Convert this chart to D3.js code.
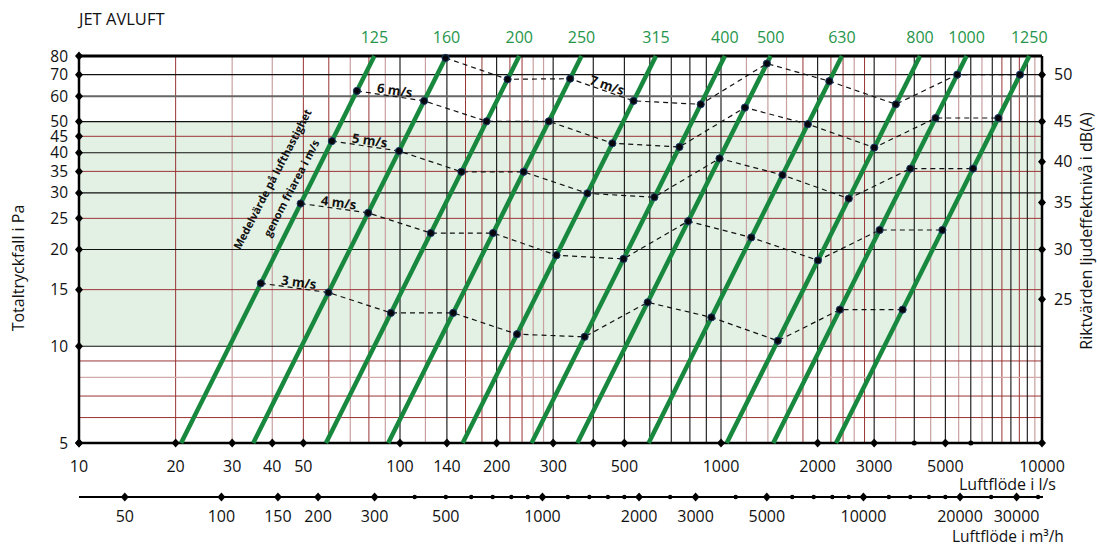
<!DOCTYPE html>
<html>
<head>
<meta charset="utf-8">
<script src="https://cdn.jsdelivr.net/npm/d3@7"></script>
<style>
body { margin: 0; background: #fff; }
text { font-family: "Open Sans", sans-serif; fill: #111; }
</style>
</head>
<body>
<div class="chart"></div>
<script>
// duct sizes (green lines) and the flow in l/s where each line meets 5 Pa
var ductSizes = [125, 160, 200, 250, 315, 400, 500, 630, 800, 1000, 1250];
var flowAt5Pa = [20.8, 34.9, 58.8, 91.9, 156.8, 257, 357, 595, 1042, 1455, 2282];

// pressure (Pa) of each dot, one per duct size, for every velocity
var velocities = ["3 m/s", "4 m/s", "5 m/s", "6 m/s", "7 m/s"];
var p3 = [15.7, 14.7, 12.7, 12.7, 10.9, 10.7, 13.7, 12.3, 10.4, 13.0, 13.0];
var p4 = [27.8, 26.0, 22.5, 22.5, 19.2, 18.7, 24.5, 21.8, 18.5, 23.0, 23.0];
var p5 = [43.5, 40.5, 34.9, 34.9, 29.9, 29.1, 38.4, 34.1, 28.8, 35.7, 35.7];
var p6 = [62.3, 58.0, 50.1, 50.1, 42.8, 41.7, 55.3, 49.1, 41.5, 51.3, 51.3];
var p7 = [null, 78.9, 67.7, 68.0, 58.0, 56.6, 75.8, 66.8, 56.6, 70.0, 70.0];
var pressures = [p3, p4, p5, p6, p7];
var labelSegment = [0, 0, 0, 0, 2];  // which segment of each dashed line carries its label

// axis ticks
var yTicks = [5, 10, 15, 20, 25, 30, 35, 40, 45, 50, 60, 70, 80];
var xTicks = [10, 20, 30, 40, 50, 100, 140, 200, 300, 400, 500, 1000, 2000, 3000, 5000, 10000];
var xTicksSmall = [4000, 6000];
var xLabels = [10, 20, 30, 40, 50, 100, 140, 200, 300, 500, 1000, 2000, 3000, 5000, 10000];
var m3Ticks = [50, 100, 150, 200, 300, 1000, 2000, 3000, 5000, 10000, 20000, 30000];
var m3TicksSmall = [400, 500, 600, 700, 800, 900, 1200, 1400, 1600, 1800, 2500, 4000, 6000, 7000, 8000, 9000, 12000, 14000, 16000, 18000, 25000, 35000];
var m3Labels = [50, 100, 150, 200, 300, 500, 1000, 2000, 3000, 5000, 10000, 20000, 30000];
var dbLabels = [50, 45, 40, 35, 30, 25];
var dbAtPa = [70, 50, 37.5, 28, 20, 14];

// grid lines
var hBlack = [10, 20, 30, 40, 50, 70];
var hRed = [6, 7, 9, 15, 25, 35, 45];
var hPink = [8];
var vBlack = [100, 140, 200, 300, 400, 500, 600, 700, 800, 900, 1000, 2000, 3000, 4000, 5000, 6000, 7000, 8000, 9000];
var vRed = [20, 50, 60, 80, 160, 180, 220, 240, 1800, 2200, 2400, 2800, 7500, 8500];
var vPink = [30, 40, 70, 90, 120, 260, 280, 1200, 1400, 1600, 2600, 3500, 4500, 5500, 6500, 9500];

var margin = { top: 56, right: 55, bottom: 103, left: 79 },
    W = 1097, H = 546,
    width = W - margin.left - margin.right,
    height = H - margin.top - margin.bottom;

var x = d3.scaleLog().domain([10, 10000]).range([0, width]),
    y = d3.scaleLog().domain([5, 80]).range([height, 0]),
    xm3 = d3.scaleLog().domain([36, 36000]).range([0, width]);  // 1 l/s = 3.6 m3/h

var root = d3.select(".chart").append("svg")
    .attr("width", W)
    .attr("height", H);

var svg = root.append("g")
    .attr("transform", "translate(" + margin.left + "," + margin.top + ")");

var diamond = "M0,-4.5L4,0L0,4.5L-4,0Z";

// green band 10-50 Pa
svg.append("rect")
    .attr("x", 0)
    .attr("y", y(50))
    .attr("width", width)
    .attr("height", y(10) - y(50))
    .style("fill", "#e3f1e5");

function hLines(vals, color, w) {
    svg.selectAll(null).data(vals).enter().append("line")
        .attr("x1", 0).attr("x2", width)
        .attr("y1", function(d) { return y(d); })
        .attr("y2", function(d) { return y(d); })
        .style("stroke", color).style("stroke-width", w);
}
function vLines(vals, color, w) {
    svg.selectAll(null).data(vals).enter().append("line")
        .attr("y1", 0).attr("y2", height)
        .attr("x1", function(d) { return x(d); })
        .attr("x2", function(d) { return x(d); })
        .style("stroke", color).style("stroke-width", w);
}
vLines(vPink, "#c9a0a0", 1.2);
vLines(vRed, "#9a3434", 1);
hLines(hPink, "#d2aaaa", 1.2);
hLines(hRed, "#9a3434", 1);
vLines(vBlack, "#111", 1.1);
hLines(hBlack, "#111", 1.2);
hLines([60], "#666", 2);

// frame
svg.append("line").attr("x1", 0).attr("x2", width).attr("y1", y(80)).attr("y2", y(80)).style("stroke", "#000").style("stroke-width", 3);
svg.append("line").attr("x1", 0).attr("x2", width).attr("y1", y(5)).attr("y2", y(5)).style("stroke", "#000").style("stroke-width", 2.5);
svg.append("line").attr("x1", 0).attr("x2", 0).attr("y1", 0).attr("y2", height).style("stroke", "#000").style("stroke-width", 2.5);
svg.append("line").attr("x1", width).attr("x2", width).attr("y1", 0).attr("y2", height).style("stroke", "#000").style("stroke-width", 2.5);

// green duct lines, p grows with q^2
var line = d3.line()
    .x(function(d) { return x(d.q); })
    .y(function(d) { return y(d.p); });

svg.selectAll(".duct")
    .data(flowAt5Pa)
    .enter().append("path")
    .attr("class", "duct")
    .attr("d", function(d) { return line([{q: d, p: 5}, {q: d * 4, p: 80}]); })
    .style("fill", "none")
    .style("stroke", "#17883d")
    .style("stroke-width", 4.5);

svg.selectAll(".duct-label")
    .data(ductSizes)
    .enter().append("text")
    .attr("class", "duct-label")
    .attr("x", function(d, i) { return x(flowAt5Pa[i] * 4); })
    .attr("y", -13)
    .attr("text-anchor", "middle")
    .style("font-size", "16px")
    .style("fill", "#25954a")
    .text(function(d) { return d; });

// velocity series
var series = pressures.map(function(ps) {
    return ps.map(function(p, i) {
        return p == null ? null : {q: flowAt5Pa[i] * Math.sqrt(p / 5), p: p};
    }).filter(function(d) { return d; });
});

svg.selectAll(".vel")
    .data(series)
    .enter().append("path")
    .attr("class", "vel")
    .attr("d", line)
    .style("fill", "none")
    .style("stroke", "#111")
    .style("stroke-width", 1.2)
    .style("stroke-dasharray", "5,4");

series.forEach(function(s) {
    svg.selectAll(null).data(s).enter().append("circle")
        .attr("cx", function(d) { return x(d.q); })
        .attr("cy", function(d) { return y(d.p); })
        .attr("r", 3.6)
        .style("fill", "#05070d")
        .style("stroke", "#1d3a66")
        .style("stroke-width", 1);
});

series.forEach(function(s, k) {
    var a = s[labelSegment[k]], b = s[labelSegment[k] + 1];
    var ax = x(a.q), ay = y(a.p), bx = x(b.q), by = y(b.p);
    var t = 0.55;
    var ang = Math.atan2(by - ay, bx - ax) * 180 / Math.PI;
    svg.append("text")
        .attr("transform", "translate(" + (ax + (bx - ax) * t) + "," + (ay + (by - ay) * t) + ") rotate(" + ang + ")")
        .attr("dy", -1.5)
        .attr("text-anchor", "middle")
        .style("font-size", "13px")
        .style("font-weight", "bold")
        .text(velocities[k]);
});

// annotation along first duct line
root.append("text")
    .attr("transform", "translate(272,179) rotate(-62.5)")
    .attr("text-anchor", "middle")
    .attr("dominant-baseline", "central")
    .style("font-size", "11px")
    .style("font-weight", "bold")
    .text("Medelvärde på lufthastighet");
root.append("text")
    .attr("transform", "translate(291,188) rotate(-62.5)")
    .attr("text-anchor", "middle")
    .attr("dominant-baseline", "central")
    .style("font-size", "11px")
    .style("font-weight", "bold")
    .text("genom friarea i m/s");

// left axis
svg.selectAll(".ytick")
    .data(yTicks)
    .enter().append("path")
    .attr("d", diamond)
    .attr("transform", function(d) { return "translate(0," + y(d) + ")"; })
    .style("fill", "#000");
svg.selectAll(".ylab")
    .data(yTicks)
    .enter().append("text")
    .attr("x", -11)
    .attr("y", function(d) { return y(d) + 5.5; })
    .attr("text-anchor", "end")
    .style("font-size", "15.5px")
    .text(function(d) { return d; });

// right axis, dB
svg.selectAll(".dbtick")
    .data(dbAtPa)
    .enter().append("path")
    .attr("d", diamond)
    .attr("transform", function(d) { return "translate(" + width + "," + y(d) + ")"; })
    .style("fill", "#000");
svg.selectAll(".dblab")
    .data(dbLabels)
    .enter().append("text")
    .attr("x", width + 12)
    .attr("y", function(d, i) { return y(dbAtPa[i]) + 5.7; })
    .style("font-size", "16px")
    .text(function(d) { return d; });

// bottom axis l/s
svg.selectAll(".xtick")
    .data(xTicks)
    .enter().append("path")
    .attr("d", diamond)
    .attr("transform", function(d) { return "translate(" + x(d) + "," + height + ")"; })
    .style("fill", "#000");
svg.selectAll(".xtick-s")
    .data(xTicksSmall)
    .enter().append("circle")
    .attr("cx", function(d) { return x(d); })
    .attr("cy", height)
    .attr("r", 2.5)
    .style("fill", "#000");
svg.selectAll(".xlab")
    .data(xLabels)
    .enter().append("text")
    .attr("x", function(d) { return x(d); })
    .attr("y", height + 28.5)
    .attr("text-anchor", "middle")
    .style("font-size", "16px")
    .text(function(d) { return d; });

// second axis m3/h
svg.append("line")
    .attr("x1", 0).attr("x2", width + 1)
    .attr("y1", height + 54).attr("y2", height + 54)
    .style("stroke", "#000").style("stroke-width", 2);
svg.selectAll(".m3tick")
    .data(m3Ticks)
    .enter().append("path")
    .attr("d", diamond)
    .attr("transform", function(d) { return "translate(" + xm3(d) + "," + (height + 54) + ")"; })
    .style("fill", "#000");
svg.selectAll(".m3tick-s")
    .data(m3TicksSmall)
    .enter().append("circle")
    .attr("cx", function(d) { return xm3(d); })
    .attr("cy", height + 54)
    .attr("r", 2.2)
    .style("fill", "#000");
svg.selectAll(".m3lab")
    .data(m3Labels)
    .enter().append("text")
    .attr("x", function(d) { return xm3(d); })
    .attr("y", height + 79)
    .attr("text-anchor", "middle")
    .style("font-size", "16px")
    .text(function(d) { return d; });

// titles
root.append("text").attr("x", 79).attr("y", 25).style("font-size", "16.5px").text("JET AVLUFT");
root.append("text").attr("x", 959).attr("y", 490).style("font-size", "16px").text("Luftflöde i l/s");
root.append("text").attr("x", 952).attr("y", 542).style("font-size", "15.5px").text("Luftflöde i m³/h");
root.append("text")
    .attr("transform", "translate(17.5,268) rotate(-90)")
    .attr("text-anchor", "middle")
    .attr("dominant-baseline", "central")
    .style("font-size", "16px")
    .text("Totaltryckfall i Pa");
root.append("text")
    .attr("transform", "translate(1086,231) rotate(-90)")
    .attr("text-anchor", "middle")
    .attr("dominant-baseline", "central")
    .style("font-size", "16px")
    .text("Riktvärden ljudeffektnivå i dB(A)");
</script>
</body>
</html>
